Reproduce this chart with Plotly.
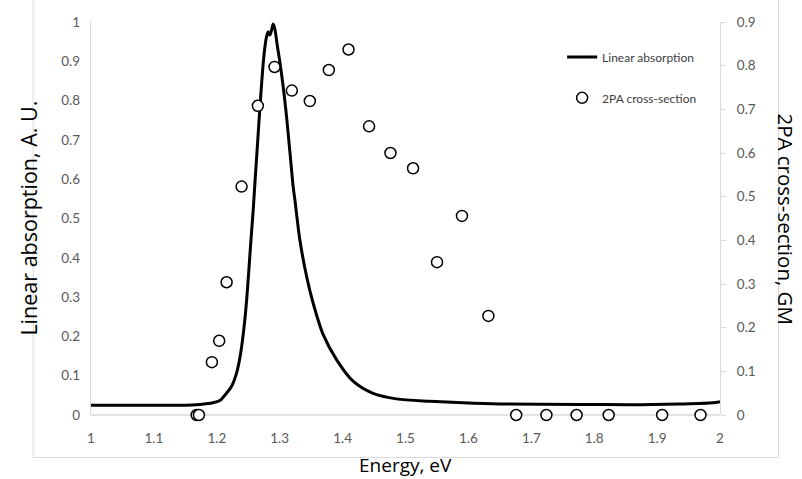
import plotly.graph_objects as go

# Linear absorption spectrum (left axis, A. U.)
energy_abs = [1.000, 1.094, 1.141, 1.173, 1.194, 1.205, 1.210, 1.2235, 1.2315, 1.238,
              1.2435, 1.2473, 1.2510, 1.2545, 1.2578, 1.2610, 1.2640, 1.2670, 1.2700,
              1.2730, 1.2760, 1.2790, 1.2817, 1.2844, 1.2871, 1.2896, 1.2923, 1.2960,
              1.3002, 1.3055, 1.3098, 1.3134, 1.3177, 1.3214, 1.3241, 1.3320, 1.3427,
              1.3531, 1.3690, 1.3903, 1.4167, 1.4484, 1.4856, 1.5385, 1.5914, 1.6497,
              1.777, 1.856, 1.935, 1.9886, 2.000]
absorption = [0.025, 0.025, 0.025, 0.027, 0.031, 0.037, 0.045, 0.073, 0.107, 0.158,
              0.226, 0.290, 0.370, 0.450, 0.520, 0.600, 0.672, 0.745, 0.815,
              0.880, 0.930, 0.962, 0.975, 0.967, 0.980, 0.995, 0.982, 0.942,
              0.899, 0.836, 0.776, 0.717, 0.644, 0.581, 0.548, 0.446, 0.353,
              0.285, 0.205, 0.141, 0.086, 0.055, 0.041, 0.035, 0.031, 0.028,
              0.027, 0.026, 0.028, 0.031, 0.034]

# Two-photon absorption cross-section (right axis, GM)
energy_2pa = [1.168, 1.1716, 1.1922, 1.2038, 1.2156, 1.2394, 1.2653, 1.2918, 1.3193,
              1.3479, 1.3781, 1.4094, 1.4421, 1.4761, 1.5120, 1.5501, 1.5898, 1.6318,
              1.676, 1.724, 1.772, 1.823, 1.908, 1.969]
cross_section = [0.0, 0.0, 0.121, 0.170, 0.304, 0.523, 0.708, 0.797, 0.743,
                 0.719, 0.790, 0.837, 0.661, 0.600, 0.565, 0.350, 0.456, 0.227,
                 0.0, 0.0, 0.0, 0.0, 0.0, 0.0]

x_ticks = [1, 1.1, 1.2, 1.3, 1.4, 1.5, 1.6, 1.7, 1.8, 1.9, 2]
left_ticks = [0, 0.1, 0.2, 0.3, 0.4, 0.5, 0.6, 0.7, 0.8, 0.9, 1]
right_ticks = [0, 0.1, 0.2, 0.3, 0.4, 0.5, 0.6, 0.7, 0.8, 0.9]

TICK_FONT = "Lato"
TITLE_FONT = "Open Sans"
TICK_COLOR = "#595959"
AXIS_LINE = "#d9d9d9"

fig = go.Figure()

fig.add_trace(go.Scatter(
    x=energy_abs, y=absorption, mode="lines",
    name="Linear absorption",
    line=dict(color="black", width=3, shape="spline", smoothing=0.8),
    legend="legend", cliponaxis=False,
))

fig.add_trace(go.Scatter(
    x=energy_2pa, y=cross_section, mode="markers",
    name="2PA cross-section", yaxis="y2",
    marker=dict(symbol="circle", size=11, color="white",
                line=dict(color="black", width=1.5)),
    legend="legend2", cliponaxis=False,
))

fig.update_layout(
    width=802, height=479,
    margin=dict(l=91, r=81.5, t=22, b=63.5),
    paper_bgcolor="white", plot_bgcolor="white",
    font=dict(family=TICK_FONT, color=TICK_COLOR, size=13),
    xaxis=dict(
        range=[1, 2], tickvals=x_ticks, ticktext=[f"{v:g}" for v in x_ticks],
        showgrid=False, zeroline=False, showline=False,
        ticks="", ticklabelstandoff=13,
        tickfont=dict(size=13.5, color=TICK_COLOR),
    ),
    yaxis=dict(
        range=[0, 1], tickvals=left_ticks, ticktext=[f"{v:g}" for v in left_ticks],
        showgrid=False, zeroline=False,
        showline=True, linecolor=AXIS_LINE, linewidth=1.3,
        ticks="", ticklabelstandoff=7,
        tickfont=dict(size=13.5, color=TICK_COLOR),
    ),
    yaxis2=dict(
        range=[0, 0.9], tickvals=right_ticks, ticktext=[f"{v:g}" for v in right_ticks],
        overlaying="y", side="right", anchor="x",
        showgrid=False, zeroline=False,
        showline=True, linecolor=AXIS_LINE, linewidth=1.3,
        ticks="outside", ticklen=5, tickcolor=AXIS_LINE, tickwidth=1.3,
        ticklabelstandoff=8,
        tickfont=dict(size=13.5, color=TICK_COLOR),
    ),
    legend=dict(
        x=0.749, y=0.911, xanchor="left", yanchor="middle",
        bgcolor="rgba(0,0,0,0)", font=dict(size=12, color="#404040"),
        itemwidth=30,
    ),
    legend2=dict(
        x=0.749, y=0.807, xanchor="left", yanchor="middle",
        bgcolor="rgba(0,0,0,0)", font=dict(size=12, color="#404040"),
        itemwidth=30,
    ),
    showlegend=True,
)

# Horizontal baseline of the plot area (y = 0)
fig.add_shape(type="line", xref="paper", yref="paper", x0=0, x1=1, y0=0, y1=0,
              line=dict(color=AXIS_LINE, width=1.3), layer="below")

# Light chart-area frame
frame = dict(color="#d9d9d9", width=1)
fig.add_shape(type="line", xref="paper", yref="paper", x0=-0.092, x1=-0.092,
              y0=-0.108, y1=1.2, line=frame, layer="below")
fig.add_shape(type="line", xref="paper", yref="paper", x0=1.093, x1=1.093,
              y0=-0.108, y1=1.2, line=frame, layer="below")
fig.add_shape(type="line", xref="paper", yref="paper", x0=-0.092, x1=1.093,
              y0=-0.108, y1=-0.108, line=frame, layer="below")

# Axis titles
fig.add_annotation(text="Linear absorption, A. U.", xref="paper", yref="paper",
                   x=-0.1, y=0.5, xanchor="center", yanchor="middle",
                   textangle=-90, showarrow=False,
                   font=dict(family=TITLE_FONT, size=21.5, color="black"))
fig.add_annotation(text="2PA cross-section, GM", xref="paper", yref="paper",
                   x=1.105, y=0.5, xanchor="center", yanchor="middle",
                   textangle=90, showarrow=False,
                   font=dict(family=TITLE_FONT, size=20.5, color="black"))
fig.add_annotation(text="Energy, eV", xref="paper", yref="paper",
                   x=0.5, y=-0.126, xanchor="center", yanchor="middle",
                   showarrow=False, font=dict(family=TITLE_FONT, size=19, color="black"))

fig.write_html("out.html")
